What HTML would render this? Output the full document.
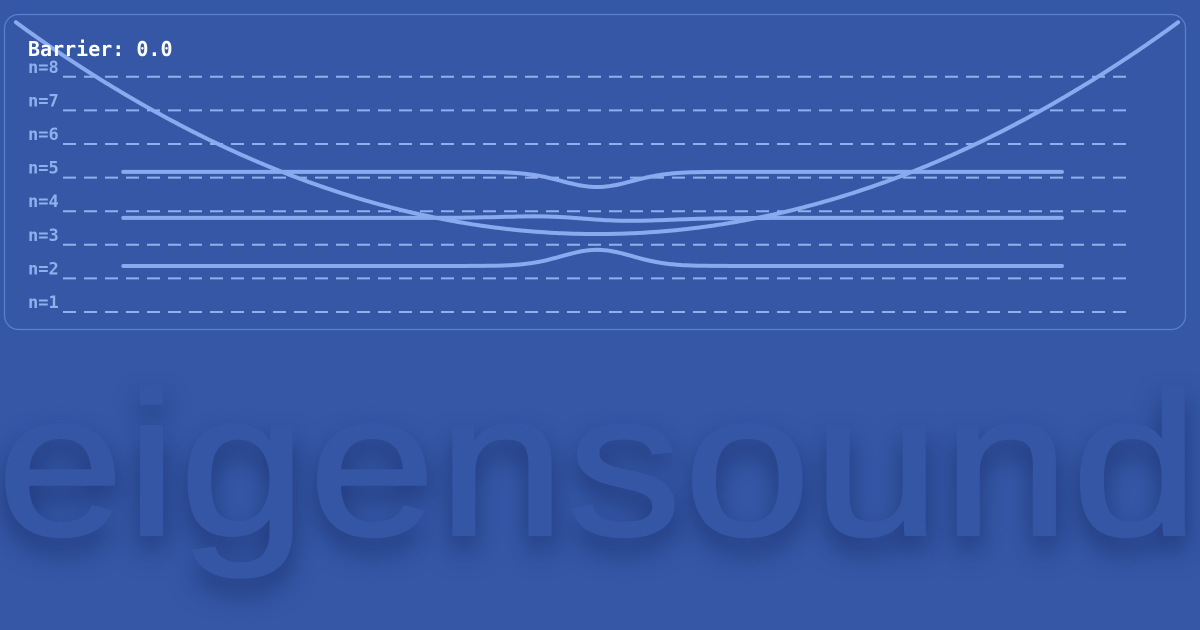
<!DOCTYPE html>
<html><head><meta charset="utf-8"><style>
html,body{margin:0;padding:0;}
body{width:1200px;height:630px;overflow:hidden;background:#3557a6;position:relative;font-family:"Liberation Sans",sans-serif;}
#brand{position:absolute;left:-3px;top:342px;font-size:228px;font-weight:normal;line-height:1;color:#3556a5;-webkit-text-stroke:3px #3556a5;letter-spacing:2.5px;text-shadow:0 16px 28px rgba(15,30,85,0.6);white-space:nowrap;transform:scaleY(0.9);transform-origin:0 200px;}
svg{position:absolute;left:0;top:0;}
</style></head><body>
<div id="brand">eigensound</div>
<svg id="chart" width="1200" height="630">
<rect x="4.5" y="14.5" width="1181" height="315" rx="14" fill="#3557a6" stroke="#5a80d0" stroke-width="1.2"/>
<g id="grid"></g><g id="curves"></g>
<text x="28" y="56" fill="#ffffff" font-family="'DejaVu Sans Mono','Liberation Mono',monospace" font-weight="bold" font-size="20">Barrier: 0.0</text>
</svg>
<script>
const levelLabels=[1,2,3,4,5,6,7,8];
const stateBase=[5.17,3.80,2.37];
const stateAmp=[-0.45,-0.05,0.48];
const stateSkew=[0,0.1,0];
const potentialMin=3.32, potentialCurv=6.43;
const ns="http://www.w3.org/2000/svg";
const yOf=n=>312-(n-1)*33.6;
const xOf=u=>597+u*587;
const grid=document.getElementById('grid'),cur=document.getElementById('curves');
levelLabels.forEach(n=>{
 const l=document.createElementNS(ns,'line');
 l.setAttribute('x1',63);l.setAttribute('x2',1130);l.setAttribute('y1',yOf(n));l.setAttribute('y2',yOf(n));
 l.setAttribute('stroke','#8fb0ec');l.setAttribute('stroke-width',2);l.setAttribute('stroke-dasharray','13 8');
 
 
 grid.appendChild(l);
 const t=document.createElementNS(ns,'text');
 t.setAttribute('x',28);t.setAttribute('y',yOf(n)-4);t.setAttribute('fill','#8fb0ec');
 t.setAttribute('font-family',"'DejaVu Sans Mono','Liberation Mono',monospace");t.setAttribute('font-size',17);t.setAttribute('font-weight','bold');
 t.textContent='n='+n;
 
 
 grid.appendChild(t);
});
function path(f,u0,u1,name){
 let d='';for(let i=0;i<=400;i++){const u=u0+(u1-u0)*i/400;d+=(i?'L':'M')+xOf(u).toFixed(1)+','+yOf(f(u)).toFixed(1);}
 const p=document.createElementNS(ns,'path');p.setAttribute('d',d);p.setAttribute('fill','none');
 p.setAttribute('stroke','#8aaaf0');p.setAttribute('stroke-width',4);p.setAttribute('stroke-linecap','round');
 
 
 cur.appendChild(p);
}
path(u=>potentialMin+potentialCurv*u*u,-0.99,0.99,'potential-curve');
stateBase.forEach((b,i)=>{
 path(u=>{const s=u/0.085;return b+stateAmp[i]*Math.exp(-s*s)+stateSkew[i]*(-s)*Math.exp(-s*s/2);},-0.807,0.792,'eigenstate-'+(i+1));
});
</script>
</body></html>
